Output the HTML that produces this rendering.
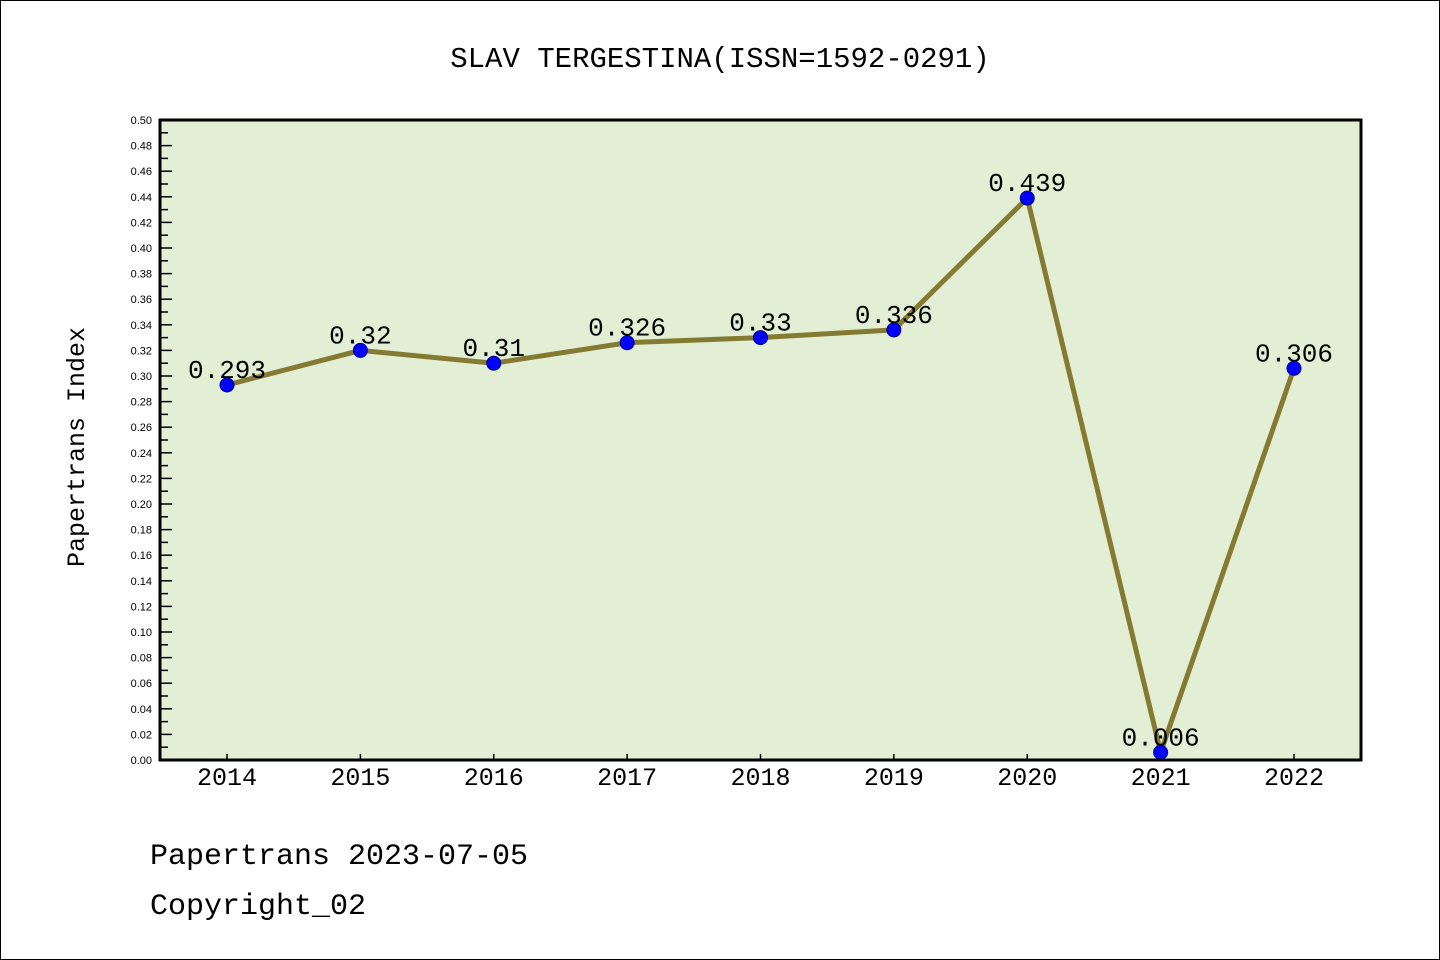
<!DOCTYPE html>
<html><head><meta charset="utf-8"><style>
body{margin:0;background:#fff}
svg{display:block}
text{font-family:"Liberation Mono","WenQuanYi Zen Hei",monospace}
text.sm{font-family:"Liberation Sans",sans-serif}
</style></head><body>
<svg id="c" width="1440" height="960">
<rect x="0.5" y="0.5" width="1439" height="959" fill="#fff" stroke="#000"/>
<text x="720" y="67" text-anchor="middle" font-size="29">SLAV TERGESTINA(ISSN=1592-0291)</text>
<rect x="160" y="120" width="1201" height="640" fill="#e2efd5"/>
<g id="yt"></g><g id="xt"></g><g id="ln"></g><g id="pts"></g><g id="lbl"></g>
<rect x="160" y="120" width="1201" height="640" fill="none" stroke="#000" stroke-width="3"/>
<text transform="translate(84,447) rotate(-90)" text-anchor="middle" font-size="25">Papertrans Index</text>
<text x="150" y="864" font-size="30">Papertrans 2023-07-05</text>
<text x="150" y="914" font-size="30">Copyright_02</text>
</svg>
<script>
const years=["2014","2015","2016","2017","2018","2019","2020","2021","2022"];
const values=[0.293,0.32,0.31,0.326,0.33,0.336,0.439,0.006,0.306];
const labels=["0.293","0.32","0.31","0.326","0.33","0.336","0.439","0.006","0.306"];
const NS="http://www.w3.org/2000/svg";
function X(i){return 227+i*(1294-227)/(years.length-1);}
function Y(v){return 760-v*1280;}
function mk(t,a,p){const e=document.createElementNS(NS,t);for(const k in a)e.setAttribute(k,a[k]);p.appendChild(e);return e;}
const yt=document.getElementById('yt');
for(let k=0;k<=50;k++){const v=k/100,y=Y(v),maj=k%2==0;
 const l=mk('line',{x1:160,x2:maj?172:168,y1:y,y2:y,stroke:'#000','stroke-width':1.5},yt);
 
 
 if(maj){const t=mk('text',{x:152,y:y+4,'text-anchor':'end','font-size':11,'class':'sm'},yt);t.textContent=v.toFixed(2);
 
 }}
const xt=document.getElementById('xt');
years.forEach((yr,i)=>{const x=X(i);
 const l=mk('line',{x1:x,x2:x,y1:760,y2:754,stroke:'#000','stroke-width':1.5},xt);
 
 
 const t=mk('text',{x:x,y:785,'text-anchor':'middle','font-size':25},xt);t.textContent=yr;
 
 });
const pl=mk('polyline',{points:values.map((v,i)=>X(i)+','+Y(v)).join(' '),fill:'none',stroke:'#857a32','stroke-width':5},document.getElementById('ln'));


values.forEach((v,i)=>{
 const c=mk('circle',{cx:X(i),cy:Y(v),r:7,fill:'#0000ff',stroke:'#00008b','stroke-width':1},document.getElementById('pts'));
 
 
 const t=mk('text',{x:X(i),y:Y(v)-7,'text-anchor':'middle','font-size':26},document.getElementById('lbl'));t.textContent=labels[i];
 
 });
</script>
</body></html>
